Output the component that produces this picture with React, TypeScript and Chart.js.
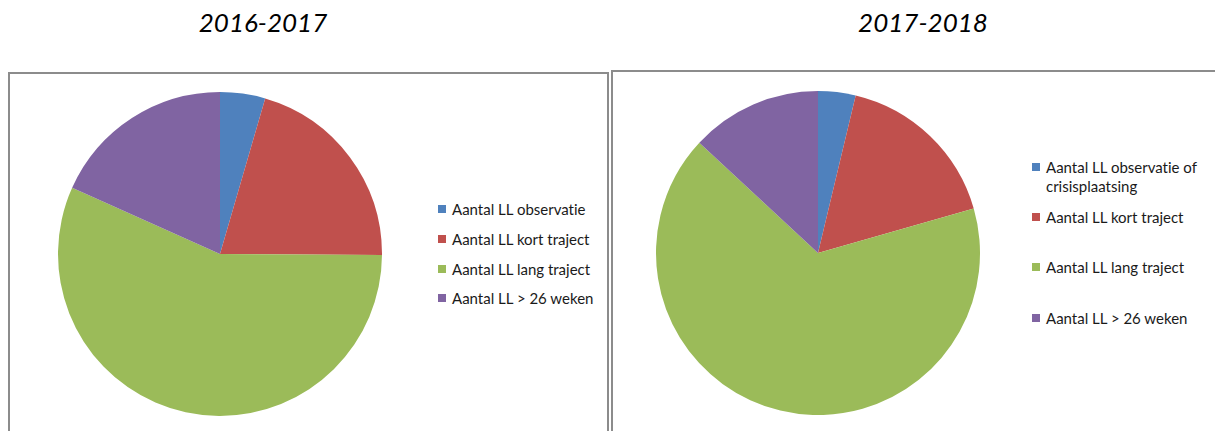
import React, { useEffect, useRef } from "react";
import { Chart, registerables } from "chart.js";

Chart.register(...registerables);

const colors = ["#4F81BD", "#C0504D", "#9BBB59", "#8064A2"];
const labels2016 = [
  "Aantal LL observatie",
  "Aantal LL kort traject",
  "Aantal LL lang traject",
  "Aantal LL > 26 weken",
];
const labels2017 = [
  "Aantal LL observatie of crisisplaatsing",
  "Aantal LL kort traject",
  "Aantal LL lang traject",
  "Aantal LL > 26 weken",
];
const values2016 = [4.5, 20.6, 56.6, 18.3];
const values2017 = [4, 18, 71, 14];
const titles = ["2016-2017", "2017-2018"];

const FONT = "Lato, 'Open Sans', sans-serif";

function Pie({ values, labels, left, top, size }: { values: number[]; labels: string[]; left: number; top: number; size: number }) {
  const ref = useRef<HTMLCanvasElement | null>(null);
  useEffect(() => {
    if (!ref.current) return;
    const chart = new Chart(ref.current, {
      type: "pie",
      data: {
        labels,
        datasets: [{ data: values, backgroundColor: colors, borderWidth: 0 }],
      },
      options: {
        animation: false,
        responsive: false,
        maintainAspectRatio: false,
        layout: { padding: 0 },
        plugins: { legend: { display: false }, tooltip: { enabled: false }, title: { display: false } },
      },
    });
    return () => chart.destroy();
  }, []);
  return (
    <canvas
      ref={ref}
      width={size}
      height={size}
      style={{ position: "absolute", left, top, width: size, height: size }}
    />
  );
}

function Legend({ labels, left, rows, width }: { labels: string[]; left: number; rows: number[]; width: number }) {
  return (
    <>
      {labels.map((l, i) => (
        <div
          key={i}
          style={{
            position: "absolute",
            left,
            top: rows[i] - 10,
            width,
            display: "flex",
            alignItems: "flex-start",
            fontFamily: FONT,
            fontSize: 15,
            lineHeight: "19px",
            color: "#1a1a1a",
            fontVariantLigatures: "none",
          }}
        >
          <span
            style={{
              display: "inline-block",
              width: 8,
              height: 8,
              background: colors[i],
              marginTop: 5,
              marginRight: 6,
              flex: "none",
            }}
          />
          <span>{l}</span>
        </div>
      ))}
    </>
  );
}

export default function App() {
  return (
    <div style={{ position: "fixed", left: 0, top: 0, width: 1215, height: 431, overflow: "hidden", background: "#fff" }}>
      <div style={{ position: "absolute", left: 163, width: 200, top: 6, textAlign: "center", fontFamily: FONT, fontStyle: "italic", fontSize: 26, color: "#000" }}>
        {titles[0]}
      </div>
      <div style={{ position: "absolute", left: 823, width: 200, top: 6, textAlign: "center", fontFamily: FONT, fontStyle: "italic", fontSize: 26, color: "#000" }}>
        {titles[1]}
      </div>
      <div style={{ position: "absolute", left: 8, top: 72, width: 601, height: 420, border: "2px solid #8c8c8c", boxSizing: "border-box" }} />
      <div style={{ position: "absolute", left: 611, top: 70, width: 620, height: 420, border: "2px solid #8c8c8c", boxSizing: "border-box" }} />
      <Pie values={values2016} labels={labels2016} left={58} top={92} size={324} />
      <Pie values={values2017} labels={labels2017} left={656} top={91} size={324} />
      <Legend labels={labels2016} left={438} rows={[210, 240, 270, 299]} width={175} />
      <Legend labels={labels2017} left={1032} rows={[168, 218, 268, 319]} width={175} />
    </div>
  );
}
